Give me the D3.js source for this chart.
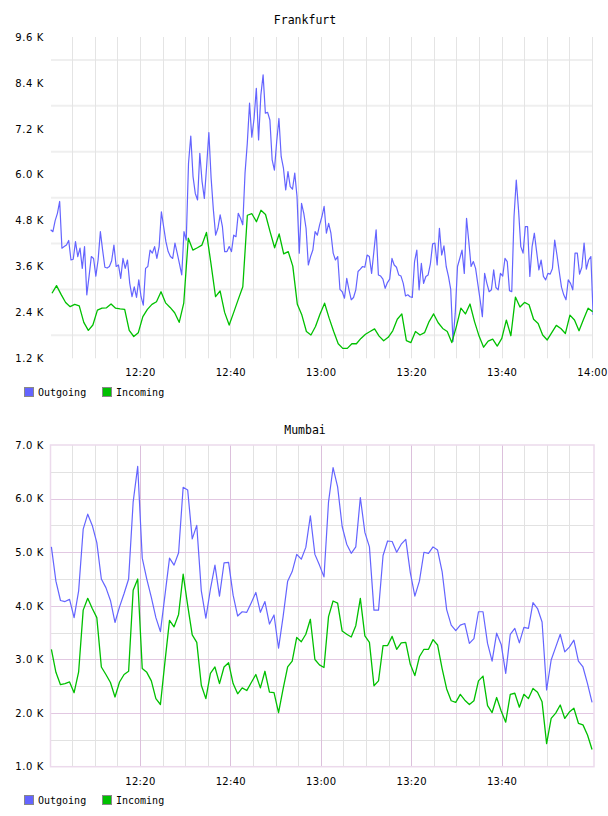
<!DOCTYPE html>
<html>
<head>
<meta charset="utf-8">
<script src="https://cdn.jsdelivr.net/npm/d3@7/dist/d3.min.js"></script>
<style>
body{margin:0;background:#fff;}
svg{display:block;}
</style>
</head>
<body>
<div id="chart"></div>
<script>
// series values in K (thousands)
var frankfurtOut = [
4.56,4.51,4.80,4.99,5.30,4.08,4.12,4.16,4.28,3.77,
3.79,4.25,3.86,4.08,3.55,4.12,2.86,3.34,3.86,3.81,
3.35,3.77,4.51,4.03,3.58,3.56,3.60,3.75,4.16,3.60,
3.64,3.29,3.81,3.55,3.77,3.16,2.81,3.07,2.79,3.25,
2.81,2.59,3.55,3.60,4.03,3.95,4.12,3.81,4.12,5.03,
4.64,4.25,3.99,3.86,3.81,4.21,3.95,3.67,3.38,4.51,
4.29,6.30,7.01,5.95,5.51,5.34,6.56,5.82,5.38,6.21,
7.10,5.91,5.08,4.42,4.60,4.95,4.64,3.99,3.99,4.12,
3.99,4.42,4.38,4.99,4.86,4.69,6.04,6.82,7.87,6.98,
7.47,8.26,6.91,8.08,8.61,7.61,7.63,7.43,6.39,6.12,
6.86,7.47,6.47,6.17,5.60,6.08,5.69,5.62,6.04,5.43,
3.95,5.25,4.99,4.60,3.64,3.86,4.03,4.51,4.42,4.69,
4.90,5.17,4.47,4.73,4.47,3.95,3.77,3.86,3.00,2.94,
2.77,3.29,2.99,2.73,2.79,2.99,3.47,3.53,3.60,3.58,
3.90,3.86,3.42,3.99,4.56,3.38,3.35,3.27,3.03,3.18,
3.27,3.81,3.64,3.58,3.38,3.35,3.16,2.83,2.86,2.81,
2.79,3.73,4.03,2.99,3.68,3.16,3.34,3.38,3.67,4.19,
4.21,3.64,4.60,3.90,4.14,3.60,3.34,3.00,1.64,2.38,
3.60,3.81,4.03,3.42,4.86,4.25,3.60,3.73,3.55,3.14,
2.73,2.29,3.42,3.16,2.94,2.99,3.51,3.05,2.99,3.42,
3.35,3.81,3.73,2.97,2.94,4.90,5.86,5.08,4.12,3.95,
4.64,4.64,3.34,4.12,4.47,3.99,3.51,3.77,3.34,3.25,
3.42,3.40,3.55,4.29,3.90,3.47,3.06,2.86,2.73,3.25,
3.16,2.99,3.95,3.95,3.40,3.58,4.21,3.53,3.77,3.86,
2.33
];
var frankfurtIn = [
2.90,3.10,2.87,2.66,2.55,2.61,2.57,2.14,1.93,2.07,
2.46,2.51,2.52,2.62,2.51,2.49,2.48,1.93,1.77,1.87,
2.29,2.48,2.61,2.68,2.94,2.65,2.53,2.39,2.14,2.64,
4.34,4.03,4.09,4.16,4.49,3.67,2.81,2.96,2.40,2.07,
2.40,2.74,3.07,4.94,4.98,4.77,5.07,4.96,4.51,4.09,
4.45,3.93,3.99,3.61,2.61,2.33,1.90,1.81,2.03,
2.36,2.64,2.25,1.90,1.58,1.46,1.46,1.58,1.58,1.72,
1.83,1.90,1.97,1.78,1.66,1.75,1.92,2.22,2.36,1.66,
1.61,1.90,1.81,1.87,2.16,2.36,2.13,1.98,1.90,1.61,
2.03,2.51,2.36,2.62,2.16,1.78,1.49,1.65,1.70,1.52,
1.72,2.20,1.79,2.80,2.54,2.66,2.60,2.22,2.11,1.81,
1.68,1.87,2.06,1.98,1.85,2.33,2.20,1.92,2.22,2.51,
2.42
];
var mumbaiOut = [
5.10,4.46,4.10,4.08,4.12,3.78,4.28,5.43,5.71,5.50,
5.18,4.50,4.34,4.10,3.69,3.98,4.23,4.50,5.94,6.60,
4.89,4.50,4.16,3.78,3.52,4.20,4.89,4.76,4.99,6.21,
6.16,5.25,5.50,4.28,3.77,4.31,4.76,4.18,4.80,4.81,
4.20,3.81,3.89,3.88,4.06,4.25,3.88,4.08,3.66,3.83,
3.21,3.80,4.46,4.64,4.96,4.87,5.09,5.68,4.96,4.76,
4.54,5.94,6.58,6.22,5.48,5.15,4.98,5.10,6.02,5.37,
5.10,3.92,3.92,4.94,5.21,5.20,5.00,5.15,5.24,4.62,
4.18,4.46,5.00,4.98,5.10,5.04,4.64,3.93,3.64,3.54,
3.64,3.67,3.30,3.39,3.89,3.89,3.30,2.97,3.49,3.28,
2.74,3.47,3.58,3.31,3.60,3.58,4.06,3.95,3.70,2.43,
2.99,3.23,3.47,3.14,3.23,3.36,2.97,2.86,2.55,2.20
];
var mumbaiIn = [
3.19,2.76,2.53,2.55,2.58,2.38,2.77,3.92,4.14,3.95,
3.78,2.86,2.72,2.57,2.30,2.58,2.72,2.78,4.29,4.50,
2.83,2.76,2.60,2.27,2.16,2.96,3.73,3.61,3.84,4.59,
4.01,3.46,3.32,2.52,2.27,2.74,2.86,2.55,2.86,2.94,
2.55,2.36,2.47,2.42,2.57,2.72,2.47,2.78,2.39,2.38,
2.01,2.45,2.86,2.97,3.41,3.33,3.47,3.75,3.00,2.90,
2.85,3.80,4.09,4.05,3.53,3.47,3.42,3.63,4.14,3.44,
3.32,2.51,2.60,3.26,3.26,3.43,3.19,3.31,3.32,2.91,
2.70,3.05,3.19,3.19,3.37,3.27,2.83,2.45,2.23,2.20,
2.35,2.24,2.16,2.23,2.60,2.69,2.14,2.01,2.29,2.04,
1.83,2.35,2.37,2.11,2.35,2.27,2.46,2.39,2.21,1.43,
1.90,2.00,2.15,1.90,2.02,2.09,1.81,1.78,1.59,1.32
];
// sampling: seconds after 12:00 of first sample, seconds between samples
var frankfurtOutSampling = [15, 30];
var frankfurtInSampling = [33, 60.3];
var mumbaiSampling = [25, 60.3];

var seriesNames = ["Outgoing", "Incoming"];
var frankfurtXTicks = ["12:20","12:40","13:00","13:20","13:40","14:00"];
var mumbaiXTicks = ["12:20","12:40","13:00","13:20","13:40"];
var frankfurtYTicks = [1.2,2.4,3.6,4.8,6.0,7.2,8.4,9.6];
var frankfurtYGrid = [1.8,3.0,4.2,5.4,6.6,7.8,9.0];
var mumbaiYTicks = [1,2,3,4,5,6,7];
var mumbaiYMinor = [1.5,2.5,3.5,4.5,5.5,6.5];

var outColor = "#6464ff";
var inColor = "#00c000";

var W = 608, H = 816;
var svg = d3.select("#chart").append("svg")
	.attr("width", W).attr("height", H);

var parseTime = d3.timeParse("%H:%M");
var t0 = parseTime("12:00"), t1 = parseTime("14:00");

function toPoints(vals, samp){
	return vals.map(function(v, i){
		return {t: new Date(+t0 + (samp[0] + i*samp[1])*1000), v: v};
	});
}

function drawChart(c){
	var g = svg.append("g");
	var x = d3.scaleTime().domain([t0, t1]).range([49.5, 592]);
	var y = d3.scaleLinear().domain(c.yDomain).range([c.bottom, c.top]);
	var fiveMin = d3.timeMinute.every(5).range(new Date(+t0 + 60000), new Date(+t1 + 1000));

	// title
	g.append("text")
		.attr("x", 305).attr("y", c.titleY)
		.attr("text-anchor", "middle")
		.attr("dominant-baseline", "central")
		.style("font-family", "DejaVu Sans Mono")
		.style("font-size", "11.5px")
		.text(c.title);

	if(c.style == "grey"){
		g.selectAll(".hg").data(frankfurtYGrid).enter().append("line")
			.attr("x1", 51).attr("x2", 593)
			.attr("y1", function(d){ return y(d); })
			.attr("y2", function(d){ return y(d); })
			.attr("stroke", "#efefef").attr("stroke-width", 2);
		g.selectAll(".vg").data(fiveMin).enter().append("line")
			.attr("x1", function(d){ return Math.round(x(d)) + 0.5; })
			.attr("x2", function(d){ return Math.round(x(d)) + 0.5; })
			.attr("y1", c.top).attr("y2", c.bottom)
			.attr("stroke", "#e4e4e4").attr("stroke-width", 1);
	}else{
		g.selectAll(".hm").data(mumbaiYMinor).enter().append("line")
			.attr("x1", 51).attr("x2", 594)
			.attr("y1", function(d){ return Math.round(y(d)) + 0.5; })
			.attr("y2", function(d){ return Math.round(y(d)) + 0.5; })
			.attr("stroke", "#e2e2e2");
		g.selectAll(".vm").data(fiveMin.filter(function(d){ return d.getMinutes() % 20 != 0; })).enter().append("line")
			.attr("x1", function(d){ return Math.round(x(d)) + 0.5; })
			.attr("x2", function(d){ return Math.round(x(d)) + 0.5; })
			.attr("y1", c.top).attr("y2", c.bottom)
			.attr("stroke", "#e2e2e2");
		g.selectAll(".hM").data(mumbaiYTicks.slice(1, -1)).enter().append("line")
			.attr("x1", 51).attr("x2", 594)
			.attr("y1", function(d){ return Math.round(y(d)) + 0.5; })
			.attr("y2", function(d){ return Math.round(y(d)) + 0.5; })
			.attr("stroke", "#e2c8e2");
		g.selectAll(".vM").data(fiveMin.filter(function(d){ return d.getMinutes() % 20 == 0 && +d < +t1; })).enter().append("line")
			.attr("x1", function(d){ return Math.round(x(d)) + 0.5; })
			.attr("x2", function(d){ return Math.round(x(d)) + 0.5; })
			.attr("y1", c.top).attr("y2", c.bottom)
			.attr("stroke", "#dcc0dc");
		g.append("rect")
			.attr("x", 50.5).attr("y", c.top)
			.attr("width", 543.5).attr("height", c.bottom - c.top)
			.attr("fill", "none").attr("stroke", "#ecdaec").attr("stroke-width", 1.5);
	}

	// lines
	var clipId = "clip" + c.title;
	g.append("clipPath").attr("id", clipId).append("rect")
		.attr("x", 50).attr("y", c.top - 2).attr("width", 543).attr("height", c.bottom - c.top + 4);
	var line = d3.line().x(function(d){ return x(d.t); }).y(function(d){ return y(d.v); });
	var lines = g.append("g").attr("clip-path", "url(#" + clipId + ")");
	lines.append("path").datum(c.out)
		.attr("d", line).attr("fill", "none")
		.attr("stroke", outColor).attr("stroke-width", 1.2).attr("stroke-linejoin", "round");
	lines.append("path").datum(c.inc)
		.attr("d", line).attr("fill", "none")
		.attr("stroke", inColor).attr("stroke-width", 1.3).attr("stroke-linejoin", "round");

	// y axis labels
	var yAxis = g.append("g").attr("transform", "translate(51,0)")
		.call(d3.axisLeft(y).tickValues(c.yTicks).tickSize(0).tickPadding(7)
			.tickFormat(function(d){ return d.toFixed(1) + " K"; }));
	yAxis.select(".domain").remove();
	yAxis.selectAll("text")
		.style("font-family", "DejaVu Sans").style("font-size", "10px")
		.style("letter-spacing", "0.6px").attr("fill", "#000");

	// x axis labels
	var xAxis = g.append("g").attr("transform", "translate(0," + c.bottom + ")")
		.call(d3.axisBottom(x).tickValues(c.xTicks.map(parseTime)).tickSize(0).tickPadding(11)
			.tickFormat(d3.timeFormat("%H:%M")));
	xAxis.select(".domain").remove();
	xAxis.selectAll("text")
		.style("font-family", "DejaVu Sans").style("font-size", "10px")
		.style("letter-spacing", "0.3px").attr("fill", "#000");

	// legend
	var leg = g.append("g").attr("transform", "translate(24," + c.legendY + ")");
	var items = leg.selectAll("g").data(seriesNames).enter().append("g")
		.attr("transform", function(d, i){ return "translate(" + (i*78) + ",0)"; });
	items.append("rect")
		.attr("x", 0.5).attr("y", 0.5).attr("width", 9).attr("height", 9)
		.attr("fill", function(d, i){ return i == 0 ? outColor : inColor; })
		.attr("stroke", "#888");
	items.append("text")
		.attr("x", 14).attr("y", 5)
		.attr("dominant-baseline", "central")
		.style("font-family", "DejaVu Sans Mono").style("font-size", "10px")
		.text(function(d){ return d; });
}

drawChart({
	title: "Frankfurt", style: "grey", titleY: 20,
	top: 37, bottom: 358.3, yDomain: [1.2, 9.6],
	yTicks: frankfurtYTicks, xTicks: frankfurtXTicks, legendY: 387,
	out: toPoints(frankfurtOut, frankfurtOutSampling),
	inc: toPoints(frankfurtIn, frankfurtInSampling)
});
drawChart({
	title: "Mumbai", style: "pink", titleY: 430,
	top: 445, bottom: 766.7, yDomain: [1.0, 7.0],
	yTicks: mumbaiYTicks, xTicks: mumbaiXTicks, legendY: 795,
	out: toPoints(mumbaiOut, mumbaiSampling),
	inc: toPoints(mumbaiIn, mumbaiSampling)
});
</script>
</body>
</html>
